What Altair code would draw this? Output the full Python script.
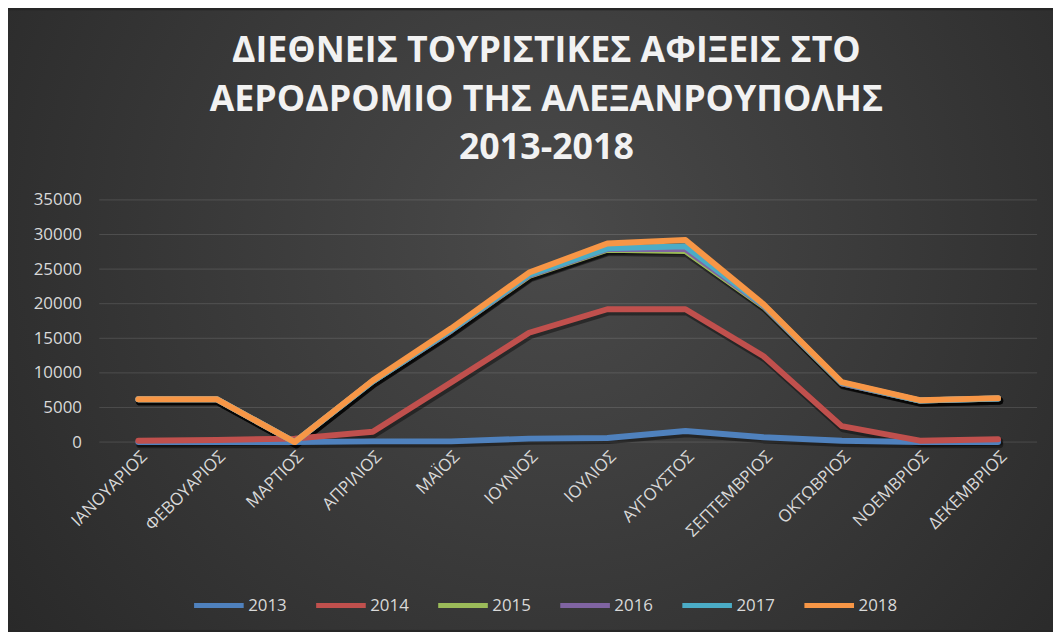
import altair as alt
import pandas as pd

months = ["ΙΑΝΟΥΑΡΙΟΣ", "ΦΕΒΟΥΑΡΙΟΣ", "ΜΑΡΤΙΟΣ", "ΑΠΡΙΛΙΟΣ", "ΜΑΪΟΣ", "ΙΟΥΝΙΟΣ",
          "ΙΟΥΛΙΟΣ", "ΑΥΓΟΥΣΤΟΣ", "ΣΕΠΤΕΜΒΡΙΟΣ", "ΟΚΤΩΒΡΙΟΣ", "ΝΟΕΜΒΡΙΟΣ", "ΔΕΚΕΜΒΡΙΟΣ"]
years = ["2013", "2014", "2015", "2016", "2017", "2018"]
colors = ["#4F81BD", "#C0504D", "#9BBB59", "#8064A2", "#4BACC6", "#F79646"]

y2013 = [0, 0, 0, 100, 100, 500, 600, 1600, 700, 200, 0, 0]
y2014 = [200, 300, 500, 1500, 8600, 15800, 19200, 19200, 12400, 2300, 200, 400]
y2015 = [6200, 6200, 0, 8800, 16100, 24000, 27800, 27600, 19600, 8500, 6000, 6300]
y2016 = [6200, 6200, 0, 8800, 16100, 24100, 27900, 27900, 19700, 8500, 6000, 6300]
y2017 = [6200, 6200, 0, 8800, 16200, 24200, 28000, 28300, 19800, 8600, 6000, 6300]
y2018 = [6200, 6200, 0, 8900, 16400, 24500, 28700, 29200, 19900, 8650, 6050, 6350]

y_ticks = [0, 5000, 10000, 15000, 20000, 25000, 30000, 35000]
title_lines = ["ΔΙΕΘΝΕΙΣ ΤΟΥΡΙΣΤΙΚΕΣ ΑΦΙΞΕΙΣ ΣΤΟ", "ΑΕΡΟΔΡΟΜΙΟ ΤΗΣ ΑΛΕΞΑΝΡΟΥΠΟΛΗΣ", "2013-2018"]

series = dict(zip(years, [y2013, y2014, y2015, y2016, y2017, y2018]))
rows = []
for yr, vals in series.items():
    for m, v in zip(months, vals):
        rows.append({"month": m, "year": yr, "value": v})
df = pd.DataFrame(rows)

W, H = 945, 244
PL, PT, PR, PB = 92, 191, 16, 189
FONT = "Open Sans"
LBL = "#d9d9d9"

yscale = alt.Scale(domain=[0, 35000], nice=False)
yaxis = alt.Axis(title=None, values=y_ticks, format="d", labelFontSize=17, labelFont=FONT,
                 labelColor=LBL, labelPadding=18, ticks=False, domain=False,
                 grid=False, zindex=1)
xenc = alt.X("month:N", sort=months, scale=alt.Scale(padding=0.5),
             axis=alt.Axis(title=None, labelAngle=-45, labelFontSize=17, labelFont=FONT,
                           labelColor=LBL, labelPadding=6, ticks=False, domain=False,
                           grid=False, zindex=1))
yenc = alt.Y("value:Q", scale=yscale, axis=yaxis)

bg = alt.Chart(alt.Data(values=[{}])).mark_rect(
    fill=alt.RadialGradient(
        gradient="radial", x1=0.52, y1=0.42, x2=0.52, y2=0.42, r1=0, r2=0.72,
        stops=[alt.GradientStop(offset=0, color="#4a4a4a"),
               alt.GradientStop(offset=1, color="#252525")]),
).encode(x=alt.value(-PL), x2=alt.value(W + PR), y=alt.value(-PT), y2=alt.value(H + PB))

grid = alt.Chart(pd.DataFrame({"value": y_ticks})).mark_rule(
    color="#ffffff", opacity=0.13, strokeWidth=1
).encode(y=yenc)

shadow = alt.Chart(df).mark_line(
    color="black", opacity=0.4, strokeWidth=7.5, xOffset=1.5, yOffset=2.5,
    strokeCap="round", strokeJoin="round"
).encode(x=xenc, y=yenc, detail="year:N")

lines = alt.Chart(df).mark_line(
    strokeWidth=6, strokeCap="round", strokeJoin="round"
).encode(
    x=xenc, y=yenc,
    color=alt.Color("year:N", scale=alt.Scale(domain=years, range=colors),
                    legend=alt.Legend(title=None, orient="none", direction="horizontal",
                                      legendX=93, legendY=381, symbolType="stroke",
                                      symbolSize=2500, symbolStrokeWidth=5,
                                      labelFontSize=17, labelFont=FONT, labelColor=LBL,
                                      labelOffset=2, columnPadding=19, zindex=1))
)

chart = alt.layer(bg, grid, shadow, lines).properties(
    width=W, height=H,
    padding={"left": PL, "top": PT, "right": PR, "bottom": PB},
    autosize=alt.AutoSizeParams(type="none"),
    background="#262626",
    title=alt.TitleParams(text=title_lines, fontSize=36, font=FONT, fontWeight="bold",
                          color="#f2f2f2", lineHeight=49, offset=-158, anchor="middle",
                          dx=-22, zindex=1),
).configure_view(stroke=None)

chart.save("out.html", embed_options={"renderer": "svg", "actions": False})
